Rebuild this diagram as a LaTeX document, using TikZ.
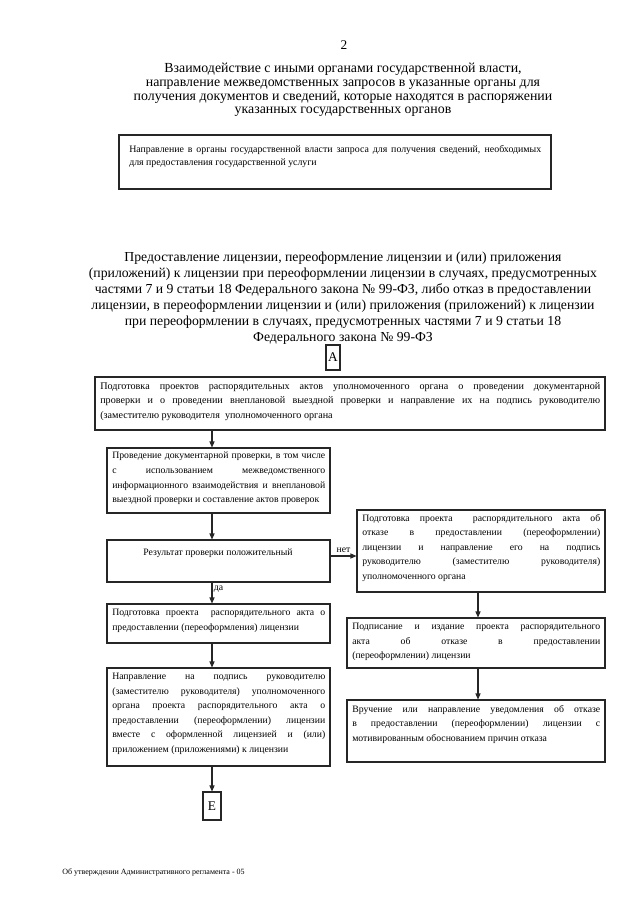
\documentclass[tikz,border=0pt]{standalone}
\usepackage{fontspec}
\setmainfont{Liberation Serif}
\usetikzlibrary{fit,arrows.meta}
\tikzset{
  boxst/.style={draw=black!85, line width=0.8pt, inner sep=0pt},
  txt/.style={inner sep=0pt, anchor=north west, align=justify,
    font=\fontsize{7.3}{10.9}\selectfont},
  arr/.style={draw=black!85, line width=0.8pt, -{Triangle[length=4.5pt,width=3.8pt]}},
}
\begin{document}
\begin{tikzpicture}[x=0.75pt,y=-0.75pt]
\useasboundingbox[fill=white] (0,0) rectangle (640,905);
\coordinate (col) at (212,0);
\coordinate (rc) at (478,0);

\node[font=\fontsize{10}{12}\selectfont] (pnum) at (344,45) {2};
\node[align=center, font=\fontsize{10.4}{10.3}\selectfont] (title) at (343,90)
 {Взаимодействие с иными органами государственной власти,\\
  направление межведомственных запросов в указанные органы для\\
  получения документов и сведений, которые находятся в распоряжении\\
  указанных государственных органов};

% box 1
\node[boxst, fit={(119,135) (551,189)}] (b1) {};
\node[txt, text width=309pt, font=\fontsize{7.4}{9.8}\selectfont] (b1t) at (129,145)
 {Направление в органы государственной власти запроса для получения сведений, необходимых\linebreak
  для предоставления государственной услуги};

\node[align=center, font=\fontsize{10.3}{12}\selectfont] (para) at (343,298)
 {Предоставление лицензии, переоформление лицензии и (или) приложения\\
  (приложений) к лицензии при переоформлении лицензии в случаях, предусмотренных\\
  частями 7 и 9 статьи 18 Федерального закона № 99-ФЗ, либо отказ в предоставлении\\
  лицензии, в переоформлении лицензии и (или) приложения (приложений) к лицензии\\
  при переоформлении в случаях, предусмотренных частями 7 и 9 статьи 18\\
  Федерального закона № 99-ФЗ};

\node[boxst, fit={(326,345) (340,370)}] (bA) {};
\node[font=\fontsize{10}{12}\selectfont, inner sep=0pt] (bAt) at (bA.center) {А};

% box 2
\node[boxst, fit={(95,377) (605,430)}] (b2) {};
\node[txt, text width=375pt, font=\fontsize{7.6}{10.9}\selectfont] (b2t) at (100,382)
 {Подготовка проектов распорядительных актов уполномоченного органа о проведении документарной\linebreak
  проверки и о проведении внеплановой выездной проверки и направление их на подпись руководителю\linebreak
  (заместителю руководителя\ \ уполномоченного органа};

% box 3
\node[boxst, fit={(107,448) (330,513)}] (b3) {};
\node[txt, text width=159.75pt] (b3t) at (112,452)
 {Проведение документарной проверки, в том числе\linebreak
  с использованием межведомственного\linebreak
  информационного взаимодействия и внеплановой\linebreak
  выездной проверки и составление актов проверок};

% box 4
\node[boxst, fit={(107,540) (330,582)}] (b4) {};
\node[inner sep=0pt, font=\fontsize{7.3}{10.9}\selectfont] (b4t) at (218,553) {Результат проверки положительный};

% box 5
\node[boxst, fit={(357,510) (605,592)}] (b5) {};
\node[txt, text width=178.5pt] (b5t) at (362,514)
 {Подготовка проекта\ \ распорядительного акта об\linebreak
  отказе в предоставлении (переоформлении)\linebreak
  лицензии и направление его на подпись\linebreak
  руководителю (заместителю руководителя)\linebreak
  уполномоченного органа};

% box 6
\node[boxst, fit={(107,604) (330,643)}] (b6) {};
\node[txt, text width=159.75pt] (b6t) at (112,609)
 {Подготовка проекта\ \ распорядительного акта о\linebreak
  предоставлении (переоформления) лицензии};

% box 7
\node[boxst, fit={(107,668) (330,766)}] (b7) {};
\node[txt, text width=159.75pt] (b7t) at (112,673)
 {Направление на подпись руководителю\linebreak
  (заместителю руководителя) уполномоченного\linebreak
  органа проекта распорядительного акта о\linebreak
  предоставлении (переоформлении) лицензии\linebreak
  вместе с оформленной лицензией и (или)\linebreak
  приложением (приложениями) к лицензии};

% box E
\node[boxst, fit={(203,792) (221,820)}] (bE) {};
\node[font=\fontsize{10}{12}\selectfont, inner sep=0pt] (bEt) at (bE.center) {Е};

% box 8
\node[boxst, fit={(347,618) (605,668)}] (b8) {};
\node[txt, text width=186pt] (b8t) at (352,623)
 {Подписание и издание проекта распорядительного\linebreak
  акта об отказе в предоставлении\linebreak
  (переоформлении) лицензии};

% box 9
\node[boxst, fit={(347,700) (605,762)}] (b9) {};
\node[txt, text width=186pt] (b9t) at (352,705)
 {Вручение или направление уведомления об отказе\linebreak
  в предоставлении (переоформлении) лицензии с\linebreak
  мотивированным обоснованием причин отказа};

% connectors
\draw[arr] (b2.south -| col) -- (b3.north -| col);
\draw[arr] (b3.south -| col) -- (b4.north -| col);
\draw[arr] (b4.south -| col) -- node[pos=0.3, right, inner sep=1pt, font=\fontsize{7.3}{9}\selectfont] (da) {да} (b6.north -| col);
\draw[arr] (b6.south -| col) -- (b7.north -| col);
\draw[arr] (b7.south -| col) -- (bE.north -| col);
\draw[arr] (b4.east |- 0,556) coordinate (n1) -- node[above, inner sep=2pt, font=\fontsize{7.3}{9}\selectfont] (net) {нет} (b5.west |- n1);
\draw[arr] (b5.south -| rc) -- (b8.north -| rc);
\draw[arr] (b8.south -| rc) -- (b9.north -| rc);

\node[anchor=west, font=\fontsize{6}{7}\selectfont, inner sep=0pt] (foot) at (62,872) {Об утверждении Административного регламента - 05};
\end{tikzpicture}
\end{document}
